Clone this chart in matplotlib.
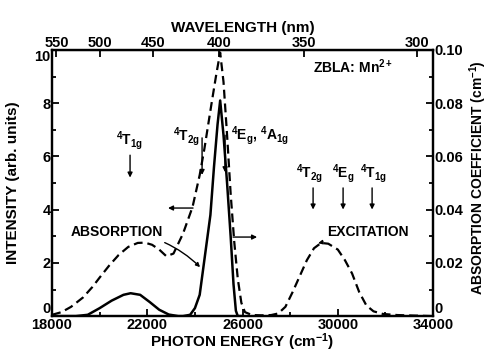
import numpy as np
import matplotlib
matplotlib.use("Agg")
import matplotlib.pyplot as plt
from matplotlib.ticker import MultipleLocator

plt.rcParams['font.family'] = ['Liberation Sans', 'DejaVu Sans']
plt.rcParams['font.weight'] = 'bold'
plt.rcParams['axes.labelweight'] = 'bold'
plt.rcParams['mathtext.fontset'] = 'custom'
plt.rcParams['mathtext.bf'] = 'Liberation Sans:bold'
plt.rcParams['mathtext.rm'] = 'Liberation Sans:bold'
plt.rcParams['mathtext.it'] = 'Liberation Sans:bold'
plt.rcParams['mathtext.default'] = 'bf'

# excitation spectrum (dashed), intensity in arb. units
exc_energy = [18000, 18400, 18800, 19300, 19700, 20000, 20400, 20800, 21200, 21600,
              21900, 22200, 22500, 22800, 23100, 23500, 23900, 24200, 24400, 24700,
              24900, 25060, 25200, 25350, 25500, 25650, 25800, 25950, 26100, 26400,
              26800, 27200, 27500, 27800, 28100, 28400, 28700, 29000, 29300, 29600,
              30000, 30300, 30600, 30900, 31200, 31500, 31900, 32500, 33200, 34000]
exc_intensity = [0.05, 0.15, 0.35, 0.7, 1.1, 1.45, 1.9, 2.3, 2.6, 2.75,
                 2.76, 2.68, 2.5, 2.25, 2.35, 3.1, 4.1, 5.3, 6.3, 8.0,
                 9.1, 9.9, 8.8, 6.8, 4.6, 2.8, 1.4, 0.5, 0.15, 0.04,
                 0.03, 0.04, 0.1, 0.35, 0.9, 1.5, 2.1, 2.55, 2.75, 2.72,
                 2.5, 2.1, 1.6, 0.9, 0.4, 0.18, 0.08, 0.04, 0.02, 0.0]

# absorption spectrum (solid), cm^-1
abs_energy = [18000, 19000, 19500, 20000, 20500, 21000, 21300, 21700, 22100, 22500,
              22900, 23300, 23500, 23800, 24000, 24200, 24350, 24500, 24650, 24800,
              24950, 25060, 25200, 25350, 25500, 25620, 25720, 25800, 26000]
abs_coeff = [0.0, 0.0, 0.0005, 0.003, 0.0058, 0.008, 0.0086, 0.008, 0.0053, 0.0024,
             0.0006, 0.0, 0.0, 0.0005, 0.003, 0.008, 0.018, 0.028, 0.038, 0.056,
             0.072, 0.081, 0.068, 0.05, 0.03, 0.012, 0.002, 0.0, 0.0]

x_ticks = [18000, 22000, 26000, 30000, 34000]
wl_ticks = [550, 500, 450, 400, 350, 300]
left_ticks = [0, 2, 4, 6, 8, 10]
right_ticks = [0, 0.02, 0.04, 0.06, 0.08, 0.10]
right_labels = ['0', '0.02', '0.04', '0.06', '0.08', '0.10']

# level labels: (text, label x, label y, arrow x, arrow top, arrow bottom)
levels = [
    (r'$^4T_{1g}$', 21276, 6.6, 21276, 6.15, 5.1),
    (r'$^4T_{2g}$', 23650, 6.75, 24300, 6.8, 5.2),
    (r'$^4T_{2g}$', 28800, 5.35, 28962, 4.92, 3.9),
    (r'$^4E_{g}$', 30222, 5.35, 30222, 4.92, 3.9),
    (r'$^4T_{1g}$', 31500, 5.35, 31440, 4.92, 3.9),
]

fig, ax = plt.subplots(figsize=(4.91, 3.54), dpi=100)
fig.subplots_adjust(left=0.106, right=0.882, bottom=0.107, top=0.859)

ax.plot(exc_energy, exc_intensity, color='black', lw=1.6, ls='--', dashes=(4, 2.2))
ax2 = ax.twinx()
ax2.plot(abs_energy, abs_coeff, color='black', lw=1.8)

ax.set_xlim(18000, 34000)
ax.set_ylim(0, 10)
ax2.set_ylim(0, 0.10)

ax.set_xticks(x_ticks)
ax.xaxis.set_minor_locator(MultipleLocator(2000))
ax.set_yticks(left_ticks)
ax.yaxis.set_minor_locator(MultipleLocator(1))
ax2.set_yticks(right_ticks)
ax2.set_yticklabels(right_labels)
ax2.yaxis.set_minor_locator(MultipleLocator(0.01))

for a in (ax, ax2):
    for s in a.spines.values():
        s.set_linewidth(1.6)
    a.tick_params(which='both', direction='in', width=1.3, labelsize=10.5, pad=1)
    a.tick_params(which='major', length=5)
    a.tick_params(which='minor', length=3)
    for lab in a.get_xticklabels() + a.get_yticklabels():
        lab.set_fontweight('bold')

# the "0" labels sit just above the bottom axis, "10" just below the top, as in the original
ax.yaxis.get_major_ticks()[0].label1.set_va('bottom')
ax2.yaxis.get_major_ticks()[0].label2.set_va('bottom')
ax.yaxis.get_major_ticks()[-1].label1.set_va('top')

top = ax.secondary_xaxis('top', functions=(lambda e: 1e7 / np.maximum(e, 1),
                                           lambda w: 1e7 / np.maximum(w, 1)))
top.set_xticks(wl_ticks)
top.tick_params(direction='in', length=5, width=1.3, labelsize=10.5, pad=0)
for lab in top.get_xticklabels():
    lab.set_fontweight('bold')
top.set_xlabel('WAVELENGTH (nm)', fontsize=11, fontweight='bold', labelpad=3)

ax.set_xlabel(r'PHOTON ENERGY (cm$^{-1}$)', fontsize=11, fontweight='bold', labelpad=0)
ax.set_ylabel('INTENSITY (arb. units)', fontsize=11, fontweight='bold')
ax.yaxis.set_label_coords(-0.085, 0.5)
ax2.set_ylabel(r'ABSORPTION COEFFICIENT (cm$^{-1}$)', fontsize=10, fontweight='bold')
ax2.yaxis.set_label_coords(1.09, 0.52)

# level arrows
for txt, lx, ly, axx, y0, y1 in levels:
    ax.text(lx, ly, txt, fontsize=10, ha='center', va='center')
    ax.annotate('', xy=(axx, y1), xytext=(axx, y0),
                arrowprops=dict(arrowstyle='-|>', color='black', lw=1.0,
                                mutation_scale=7))
ax.text(25500, 6.8, r'$^4E_g$, $^4A_{1g}$', fontsize=10, ha='left', va='center')
ax.annotate('', xy=(25266, 5.3), xytext=(25266, 6.9),
            arrowprops=dict(arrowstyle='-|>', color='black', lw=1.0, mutation_scale=7))

ax.text(28962, 9.36, r'ZBLA: Mn$^{2+}$', fontsize=10, ha='left', va='center')

# curve labels
ax.annotate('ABSORPTION', xy=(24216, 1.84), xytext=(22650, 3.15),
            fontsize=10, ha='right', va='center',
            arrowprops=dict(arrowstyle='-|>', color='black', lw=1.0,
                            mutation_scale=6, connectionstyle='arc3,rad=-0.2',
                            shrinkA=1, shrinkB=0))
ax.annotate('EXCITATION', xy=(29172, 2.74), xytext=(29550, 3.15),
            fontsize=10, ha='left', va='center',
            arrowprops=dict(arrowstyle='-|>', color='black', lw=1.0,
                            mutation_scale=6, shrinkA=1, shrinkB=0))

# axis pointers
ax.annotate('', xy=(22870, 4.06), xytext=(23920, 4.06),
            arrowprops=dict(arrowstyle='-|>', color='black', lw=1.0, mutation_scale=7,
                            shrinkA=0, shrinkB=0))
ax.annotate('', xy=(26610, 2.97), xytext=(25600, 2.97),
            arrowprops=dict(arrowstyle='-|>', color='black', lw=1.0, mutation_scale=7,
                            shrinkA=0, shrinkB=0))

fig.savefig('out.png', dpi=100)
